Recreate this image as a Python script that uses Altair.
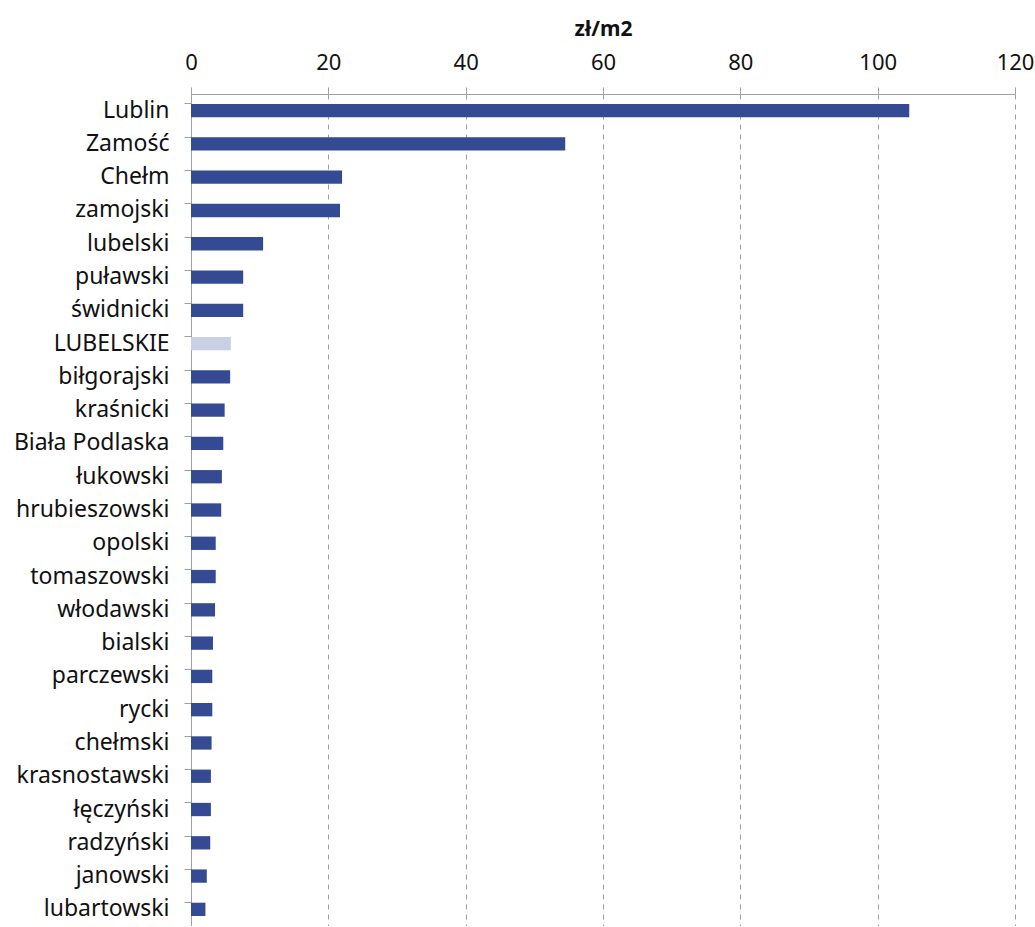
import altair as alt
import pandas as pd

categories = ["Lublin", "Zamość", "Chełm", "zamojski", "lubelski", "puławski", "świdnicki",
              "LUBELSKIE", "biłgorajski", "kraśnicki", "Biała Podlaska", "łukowski",
              "hrubieszowski", "opolski", "tomaszowski", "włodawski", "bialski", "parczewski",
              "rycki", "chełmski", "krasnostawski", "łęczyński", "radzyński", "janowski", "lubartowski"]
values = [104.6, 54.5, 22.0, 21.7, 10.5, 7.6, 7.6, 5.8, 5.7, 4.9, 4.7, 4.5, 4.4, 3.6, 3.6,
          3.5, 3.2, 3.1, 3.1, 3.0, 2.9, 2.9, 2.8, 2.3, 2.1]
highlight = ["LUBELSKIE"]

df = pd.DataFrame({"name": categories, "value": values})
df["kind"] = ["region" if c in highlight else "unit" for c in categories]

FONT = "Noto Sans"

chart = alt.Chart(df).mark_bar().encode(
    x=alt.X("value:Q", title="zł/m2",
            scale=alt.Scale(domain=[0, 120], nice=False),
            axis=alt.Axis(orient="top", values=[0, 20, 40, 60, 80, 100, 120],
                          grid=True, gridDash=[5, 5], gridColor="#a0a0a0", gridWidth=1,
                          domainColor="#a0a0a0", tickColor="#a0a0a0", tickSize=7,
                          labelFlush=False,
                          labelFont=FONT, labelFontSize=22, labelColor="#111111", labelPadding=13,
                          titleFont=FONT, titleFontSize=21, titleFontWeight="bold",
                          titleColor="#111111", titlePadding=12)),
    y=alt.Y("name:N", sort=categories, title=None,
            scale=alt.Scale(paddingInner=0.6, paddingOuter=0.3),
            axis=alt.Axis(bandPosition=0, domainColor="#a0a0a0", tickColor="#a0a0a0", tickSize=7,
                          labelFont=FONT, labelFontSize=23, labelColor="#111111",
                          labelPadding=15)),
    color=alt.Color("kind:N", scale=alt.Scale(domain=["unit", "region"],
                                               range=["#344b94", "#c9d0e5"]), legend=None),
).properties(
    width=824, height=832,
    autosize=alt.AutoSizeParams(type="none"),
    padding={"left": 191, "top": 94, "right": 20, "bottom": 0},
).configure_view(stroke=None)

chart.save("out.html", embed_options={"renderer": "svg", "actions": False})
